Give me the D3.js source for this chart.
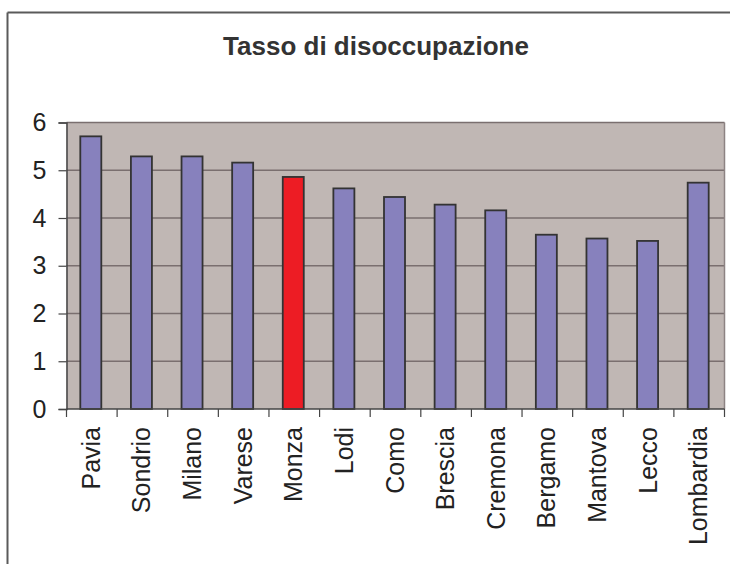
<!DOCTYPE html>
<html>
<head>
<meta charset="utf-8">
<script src="https://cdn.jsdelivr.net/npm/d3@7"></script>
<style>
  html, body { margin: 0; padding: 0; background: #fff; overflow: hidden; }
  svg { display: block; overflow: hidden; }
</style>
</head>
<body>
<script>
const title = "Tasso di disoccupazione";
const categories = ["Pavia","Sondrio","Milano","Varese","Monza","Lodi","Como","Brescia","Cremona","Bergamo","Mantova","Lecco","Lombardia"];
const values = [5.71, 5.29, 5.29, 5.16, 4.86, 4.62, 4.44, 4.28, 4.16, 3.65, 3.57, 3.52, 4.74];
const highlight = ["Monza"];
const yTicks = [0, 1, 2, 3, 4, 5, 6];

const W = 730, H = 564;
const plot = { left: 66.5, right: 724.5, top: 122.5, bottom: 409 };
const FONT = "Liberation Sans, Arial, sans-serif";

const svg = d3.select("body").append("svg").attr("width", W).attr("height", H);

// outer frame (top and left edges visible)
svg.append("line").attr("x1", 7.5).attr("x2", W).attr("y1", 12.5).attr("y2", 12.5)
  .attr("stroke", "#5a5a5a").attr("stroke-width", 2);
svg.append("line").attr("x1", 7.5).attr("x2", 7.5).attr("y1", 12.5).attr("y2", H)
  .attr("stroke", "#5a5a5a").attr("stroke-width", 2);

const x = d3.scaleBand().domain(categories).range([plot.left, plot.right])
  .paddingInner(0.585).paddingOuter(0.2925);
const y = d3.scaleLinear().domain([0, 6]).range([plot.bottom, plot.top]);

// plot background
svg.append("rect")
  .attr("x", plot.left).attr("y", plot.top)
  .attr("width", plot.right - plot.left).attr("height", plot.bottom - plot.top)
  .attr("fill", "#c0b7b4");

// gridlines
svg.append("g").selectAll("line").data(yTicks.filter(d => d > 0)).join("line")
  .attr("x1", plot.left).attr("x2", plot.right)
  .attr("y1", d => y(d)).attr("y2", d => y(d))
  .attr("stroke", "#7a6f6f").attr("stroke-width", 1.5);

// right border of plot
svg.append("line")
  .attr("x1", plot.right).attr("x2", plot.right)
  .attr("y1", plot.top).attr("y2", plot.bottom)
  .attr("stroke", "#8d8383").attr("stroke-width", 1.5);

// bars
svg.append("g").selectAll("rect").data(categories).join("rect")
  .attr("x", d => x(d) - 1)
  .attr("y", (d, i) => y(values[i]))
  .attr("width", x.bandwidth())
  .attr("height", (d, i) => y(0) - y(values[i]))
  .attr("fill", d => highlight.includes(d) ? "#ed1c24" : "#8781bd")
  .attr("stroke", "#333")
  .attr("stroke-width", 1.8);

// y axis
const yAxis = d3.axisLeft(y).tickValues(yTicks).tickSize(8).tickPadding(12).tickFormat(d3.format("d"));
const gy = svg.append("g").attr("transform", `translate(${plot.left},0)`).call(yAxis);
gy.select(".domain").attr("stroke", "#444").attr("stroke-width", 1.5);
gy.selectAll(".tick line").attr("stroke", "#444").attr("stroke-width", 1.2);
gy.selectAll(".tick text")
  .attr("font-family", FONT)
  .attr("font-size", 25).attr("fill", "#222");

// x axis: baseline + boundary ticks
const half = (x.step() - x.bandwidth()) / 2;
const bounds = categories.map(c => x(c) - half).concat([plot.right]);
const gx = svg.append("g");
gx.append("line")
  .attr("x1", plot.left).attr("x2", plot.right)
  .attr("y1", plot.bottom).attr("y2", plot.bottom)
  .attr("stroke", "#444").attr("stroke-width", 1.5);
gx.selectAll("line.t").data(bounds).join("line").attr("class", "t")
  .attr("x1", d => d).attr("x2", d => d)
  .attr("y1", plot.bottom).attr("y2", plot.bottom + 8)
  .attr("stroke", "#444").attr("stroke-width", 1.2);

gx.selectAll("text").data(categories).join("text")
  .attr("transform", d => `translate(${x(d) + x.bandwidth() / 2 + 8},${plot.bottom + 18}) rotate(-90) scale(1,1.06)`)
  .attr("text-anchor", "end")
  .attr("font-family", FONT)
  .attr("font-size", 25).attr("fill", "#222")
  .text(d => d);

// title
svg.append("text")
  .attr("x", 376).attr("y", 55)
  .attr("text-anchor", "middle")
  .attr("font-family", FONT)
  .attr("font-weight", "bold").attr("font-size", 26).attr("fill", "#333")
  .text(title);
</script>
</body>
</html>
